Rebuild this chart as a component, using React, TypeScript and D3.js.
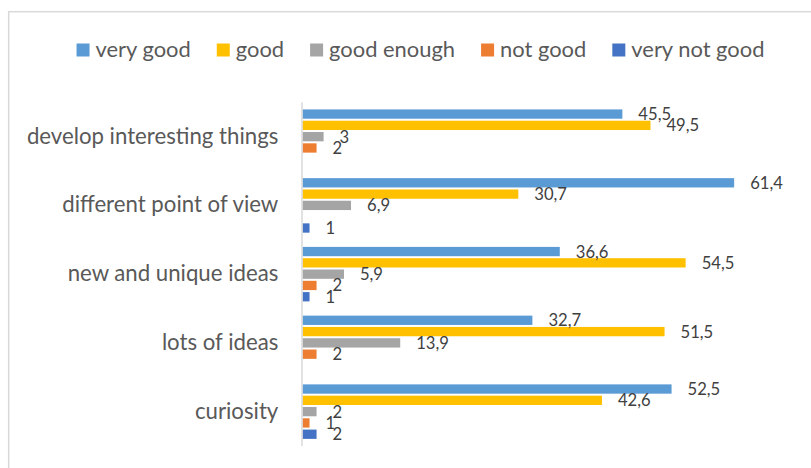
import React, { useEffect, useRef } from "react";
import * as d3 from "d3";

const categories = [
  "develop interesting things",
  "different point of view",
  "new and unique ideas",
  "lots of ideas",
  "curiosity",
];
const seriesNames = ["very good", "good", "good enough", "not good", "very not good"];
const veryGood = [45.5, 61.4, 36.6, 32.7, 52.5];
const good = [49.5, 30.7, 54.5, 51.5, 42.6];
const goodEnough = [3, 6.9, 5.9, 13.9, 2];
const notGood = [2, null, 2, 2, 1];
const veryNotGood = [null, 1, 1, null, 2];
const seriesColors = ["#5B9BD5", "#FFC000", "#A5A5A5", "#ED7D31", "#4472C4"];

const W = 811;
const H = 468;
const FONT = "Lato, 'Open Sans', sans-serif";
const TEXT = "#595959";
const LABEL_TEXT = "#404040";

export default function App() {
  const ref = useRef<SVGSVGElement | null>(null);

  useEffect(() => {
    const svg = d3.select(ref.current);
    svg.selectAll("*").remove();

    const values = [veryGood, good, goodEnough, notGood, veryNotGood];

    const measure = (txt: string, size: number) => {
      const t = svg.append("text").attr("font-family", FONT).attr("font-size", size).text(txt);
      const w = (t.node() as SVGTextElement).getComputedTextLength();
      t.remove();
      return w;
    };
    const catSize = (251.5 / measure("develop interesting things", 100)) * 100;
    const legSize = (95.3 / measure("very good", 100)) * 100;
    const lblSize = (32.7 / measure("61,4", 100)) * 100;

    svg.append("rect")
      .attr("x", 8.7).attr("y", 11.7)
      .attr("width", W + 20).attr("height", H + 20)
      .attr("fill", "#fff").attr("stroke", "#d9d9d9").attr("stroke-width", 1.5);

    const x = d3.scaleLinear().domain([0, 70]).range([302.5, 794.6]);
    const y0 = d3.scaleBand<string>().domain(categories).range([102.3, 446]).paddingInner(0.178).paddingOuter(0.089);
    const y1 = d3.scaleBand<string>().domain(seriesNames).range([0, y0.bandwidth()]);
    const color = d3.scaleOrdinal<string, string>().domain(seriesNames).range(seriesColors);

    const groups = svg.append("g").selectAll("g").data(categories).join("g")
      .attr("transform", (c) => `translate(0,${y0(c)})`);

    groups.each(function (c, ci) {
      const g = d3.select(this);
      const rows = seriesNames
        .map((s, si) => ({ s, v: values[si][ci] as number | null }))
        .filter((d) => d.v !== null && d.v !== undefined) as { s: string; v: number }[];
      g.selectAll("rect").data(rows).join("rect")
        .attr("x", x(0))
        .attr("y", (d) => (y1(d.s) as number) + 1)
        .attr("width", (d) => x(d.v) - x(0))
        .attr("height", y1.bandwidth() - 2)
        .attr("fill", (d) => color(d.s));
      g.selectAll("text").data(rows).join("text")
        .attr("x", (d) => x(d.v) + 16)
        .attr("y", (d) => (y1(d.s) as number) + y1.bandwidth() / 2 + 6)
        .attr("font-family", FONT)
        .attr("font-size", lblSize)
        .attr("fill", LABEL_TEXT)
        .text((d) => String(d.v).replace(".", ","));
    });

    svg.append("line")
      .attr("x1", x(0) - 0.5).attr("x2", x(0) - 0.5)
      .attr("y1", y0.range()[0]).attr("y2", y0.range()[1])
      .attr("stroke", "#d9d9d9").attr("stroke-width", 1.5);

    svg.append("g").selectAll("text").data(categories).join("text")
      .attr("x", 278.3)
      .attr("y", (c) => (y0(c) as number) + y0.bandwidth() / 2 + 7)
      .attr("text-anchor", "end")
      .attr("font-family", FONT)
      .attr("font-size", catSize)
      .attr("fill", TEXT)
      .text((c) => c);

    const sq = 13;
    const gapSqText = 6;
    const gapItem = 26;
    const widths = seriesNames.map((s) => measure(s, legSize));
    const total = d3.sum(widths) + seriesNames.length * (sq + gapSqText) + (seriesNames.length - 1) * gapItem;
    let cx = 420.5 - total / 2;
    const leg = svg.append("g");
    seriesNames.forEach((s, i) => {
      leg.append("rect").attr("x", cx).attr("y", 43.5).attr("width", sq).attr("height", sq).attr("fill", color(s));
      leg.append("text")
        .attr("x", cx + sq + gapSqText)
        .attr("y", 56.7)
        .attr("font-family", FONT)
        .attr("font-size", legSize)
        .attr("fill", TEXT)
        .text(s);
      cx += sq + gapSqText + widths[i] + gapItem;
    });
  }, []);

  return (
    <svg
      ref={ref}
      width={W}
      height={H}
      style={{ position: "absolute", left: 0, top: 0, background: "#fff" }}
    />
  );
}
